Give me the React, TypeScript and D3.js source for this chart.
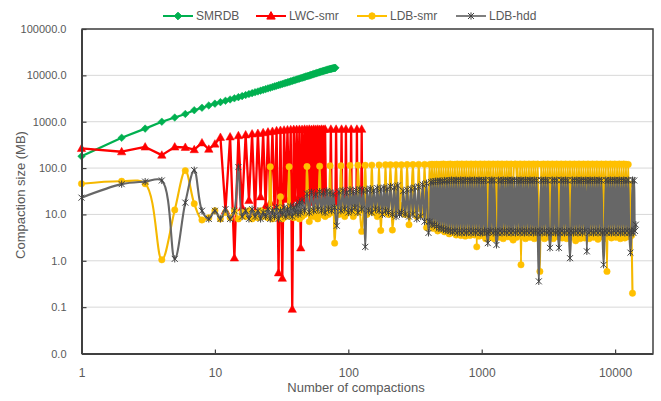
import React, { useEffect, useRef } from "react";
import * as d3 from "d3";

// SMRDB: compaction 1..80
const smrdbSize = [180, 450, 710, 1000, 1230, 1470, 1770, 2000, 2240, 2450,
  2640, 2830, 3020, 3200, 3390, 3570, 3760, 3950, 4130, 4310,
  4500, 4680, 4870, 5050, 5230, 5420, 5600, 5780, 5970, 6150,
  6330, 6510, 6700, 6880, 7060, 7240, 7420, 7610, 7790, 7970,
  8150, 8330, 8510, 8690, 8870, 9050, 9230, 9410, 9590, 9770,
  9950, 10130, 10310, 10490, 10670, 10850, 11030, 11210, 11380, 11560,
  11740, 11920, 12090, 12260, 12430, 12600, 12770, 12930, 13090, 13250,
  13400, 13550, 13690, 13830, 13960, 14080, 14200, 14310, 14420, 14520];

// LWC-smr: compaction 1..131
const lwcSmrSize = [265, 225, 285, 190, 285, 280, 250, 350, 255, 330,
  460, 12, 470, 1.15, 500, 14, 520, 20, 545, 11,
  560, 24, 580, 15, 600, 18, 620, 12, 640, 0.55,
  650, 0.42, 660, 21, 670, 14, 675, 0.09, 680, 22,
  680, 17, 685, 1.9, 680, 19, 690, 23, 685, 20,
  690, 18, 680, 22, 690, 19, 685, 21, 690, 24,
  680, 20, 690, 22, 685, 19, 690, 21, 22, 20,
  21, 19, 23, 690, 22, 18, 21, 24, 20, 19,
  690, 22, 20, 21, 23, 19, 20, 22, 690, 18,
  21, 20, 22, 19, 21, 690, 23, 20, 19, 22,
  20, 21, 19, 23, 690, 20, 22, 19, 21, 23,
  20, 18, 22, 21, 20, 690, 19, 22, 21, 20,
  23, 19, 21, 20, 22, 690, 21, 20, 19, 22, 21];

// sampled compaction numbers for the two LDB series
const ldbCompaction = [
  1, 2, 3, 4, 5, 6, 7, 8, 9, 10, 11, 12, 13, 14, 15, 16, 17, 18, 19, 20,
  21, 22, 23, 24, 25, 26, 27, 28, 29, 30, 31, 32, 33, 34, 35, 36, 37, 38, 39, 40,
  41, 42, 43, 44, 45,
  47, 49, 51, 53, 55, 57, 59, 61, 63, 65, 67, 69, 71, 73, 75, 77, 79,
  82, 85, 88, 91, 94, 97, 100, 103, 106, 109, 112, 115, 118,
  122, 126, 130, 134, 138, 142, 146, 150,
  155, 160, 165, 170, 175, 180, 185, 190, 195, 200,
  207, 214, 221, 228, 235, 242,
  250, 258, 267, 276, 285, 295, 305, 315, 326, 337, 349, 361, 373, 386, 399,
  408, 416, 424, 433, 441, 450, 459, 468, 478, 487,
  497, 507, 517, 527, 538, 549, 560, 571, 582, 594,
  606, 618, 630, 643, 656, 669, 682, 696, 710, 724,
  739, 753, 768, 784, 800, 816, 832, 848, 865, 883,
  900, 918, 937, 955, 975, 994,
  1010, 1030, 1050, 1070, 1090, 1110, 1130, 1150, 1170, 1190,
  1220, 1240, 1270, 1290, 1320, 1340, 1370, 1400, 1420, 1450,
  1480, 1510, 1540, 1570, 1600, 1630, 1660, 1690, 1720, 1760,
  1790, 1830, 1860, 1900, 1940, 1970, 2010, 2050, 2090, 2130,
  2170, 2210, 2260, 2300, 2350, 2390, 2440, 2480, 2530, 2580,
  2630, 2680, 2730, 2790, 2840, 2900, 2950, 3010, 3070, 3130,
  3190, 3250, 3310, 3380, 3440, 3510, 3580, 3650, 3720, 3790,
  3860, 3940, 4010, 4090, 4170, 4250, 4340, 4420, 4510, 4590,
  4680, 4780, 4870, 4960, 5060, 5160, 5260, 5360, 5470, 5570,
  5680, 5790, 5910, 6020, 6140, 6260, 6380, 6500, 6630, 6760,
  6890, 7020, 7160, 7300, 7440, 7590, 7740, 7890, 8040, 8200,
  8360, 8520, 8690, 8860, 9030, 9210, 9380, 9570, 9750, 9940,
  10140, 10340, 10540, 10740, 10950, 11170, 11380, 11610, 11830, 12060,
  12300, 12540, 12780, 13030, 13280, 13500,
  13700, 13900, 14100, 14300];

const ldbSmrSize = [
  46, 52, 46, 1.05, 12.5, 88, 17, 7.6, 8.5, 12, 8, 11, 8.5, 12, 8, 11, 9, 12, 8, 10.5,
  8.5, 12, 9, 11, 8.5, 107, 8, 11, 9, 12, 24, 8, 11, 9, 12, 107, 9, 12, 8.5, 11,
  9, 13, 8, 12, 9,
  10, 108, 7, 12, 9, 14, 8, 110, 10, 13, 9, 15, 10, 112, 11, 14, 2.4,
  13, 10, 112, 12, 9, 15, 11, 114, 13, 9, 16, 11, 115,
  14, 4.3, 12, 115, 10, 16, 12, 116,
  11, 15, 9, 117, 4.5, 14, 11, 118, 13, 10,
  118, 4.6, 15, 118, 12, 16,
  118, 14, 10, 119, 6.0, 15, 119, 12, 9, 120, 13, 10, 120, 5.2, 14,
  120, 6, 121, 5, 120, 5.5, 121, 4.4, 120, 5,
  121, 4.6, 122, 4.2, 120, 5, 121, 3.8, 122, 4.5,
  120, 4, 121, 3.6, 122, 4.4, 121, 3.5, 122, 4,
  121, 3.4, 122, 3.8, 121, 3.5, 122, 4, 121, 3.6,
  122, 2.0, 121, 3.4, 122, 3.8,
  121, 3.5, 122, 3.0, 121, 4.0, 122, 3.2, 121, 3.6,
  122, 3.0, 121, 3.8, 122, 3.2, 121, 3.5, 122, 3.0,
  121, 3.8, 122, 3.3, 121, 3.6, 122, 3.1, 2.8, 121,
  122, 3.2, 121, 3.6, 122, 0.82, 121, 3.4, 122, 3.0,
  121, 3.7, 122, 3.2, 121, 3.5, 122, 3.0, 121, 3.6,
  122, 3.3, 0.59, 121, 3.4, 122, 3.0, 121, 3.6, 122,
  3.2, 121, 3.5, 122, 3.0, 121, 3.7, 122, 3.3, 121,
  3.6, 122, 3.1, 121, 3.4, 122, 3.0, 121, 3.8, 122,
  3.2, 121, 3.5, 122, 2.7, 121, 3.6, 122, 3.0, 121,
  3.4, 122, 3.1, 121, 3.6, 122, 3.0, 121, 3.5, 122,
  3.2, 121, 3.7, 122, 2.9, 121, 3.3, 122, 3.6, 121,
  3.0, 122, 0.59, 121, 3.4, 122, 3.1, 121, 3.6, 122,
  3.2, 121, 3.5, 122, 3.0, 121, 3.6, 122, 3.1, 121,
  3.4, 120, 3.3, 45, 3.5, 0.2];

const ldbHddSize = [
  23, 45, 51, 54, 1.1, 18, 90, 12, 8, 12, 8, 13, 8, 12, 105, 9, 12, 8, 13, 9,
  12, 8, 11, 9, 13, 8, 12, 9, 14, 8, 12, 10, 14, 9, 13, 10, 15, 9, 14, 11,
  16, 10, 18, 11, 20,
  12, 28, 11, 30, 12, 27, 13, 31, 12, 29, 11, 32, 13, 30, 12, 28, 14,
  5.7, 31, 12, 33, 13, 30, 11, 34, 12, 31, 14, 33, 11,
  35, 13, 32, 2.0, 34, 12, 36, 11,
  33, 13, 37, 12, 35, 10, 38, 12, 36, 11,
  40, 10, 38, 9, 42, 10,
  11, 32, 10, 34, 9, 36, 10, 38, 8, 40, 9, 44, 7, 47, 4.0,
  7, 50, 6, 51, 6, 52, 5.5, 52, 5, 53,
  5, 52, 4.8, 54, 4.6, 53, 4.5, 54, 4.4, 55,
  4.2, 54, 4.4, 55, 4.0, 54, 4.4, 55, 4.0, 54,
  4.4, 55, 4.0, 54, 4.4, 55, 4.0, 54, 4.4, 55,
  4.0, 54, 4.4, 55, 4.0, 54,
  4.0, 54, 4.4, 55, 4.0, 2.4, 4.2, 54, 4.4, 55,
  4.0, 54, 4.4, 2.2, 4.0, 55, 4.4, 54, 4.0, 55,
  4.4, 54, 4.0, 55, 4.4, 54, 4.0, 55, 4.4, 54,
  4.0, 55, 4.4, 54, 4.0, 55, 4.4, 54, 4.0, 55,
  4.4, 54, 4.0, 55, 4.4, 54, 4.0, 55, 4.4, 54,
  4.0, 0.36, 4.4, 55, 4.0, 54, 4.4, 55, 4.0, 54,
  4.4, 1.9, 4.0, 55, 4.4, 54, 4.0, 55, 4.4, 1.9,
  4.0, 55, 4.4, 54, 4.0, 55, 4.4, 54, 4.0, 1.14,
  4.4, 55, 4.0, 54, 4.4, 55, 4.0, 54, 4.4, 55,
  4.0, 54, 4.4, 55, 1.6, 54, 4.0, 55, 4.4, 54,
  4.0, 55, 4.4, 54, 4.0, 55, 4.4, 54, 4.0, 0.82,
  4.4, 55, 4.0, 54, 4.4, 55, 4.0, 54, 4.4, 55,
  4.0, 54, 4.4, 55, 4.0, 54, 4.4, 55, 4.0, 54,
  4.4, 55, 4.0, 1.5, 4.4, 55,
  4.0, 54, 4.4, 6];

const yTickValues = [0.01, 0.1, 1, 10, 100, 1000, 10000, 100000];
const xTickValues = [1, 10, 100, 1000, 10000];

const seriesNames = ["SMRDB", "LWC-smr", "LDB-smr", "LDB-hdd"];
const seriesColors = ["#00b050", "#ff0000", "#ffc000", "#7f7f7f"];

const markerPaths: Record<string, string> = {
  diamond: "M0,-3.8L3.8,0L0,3.8L-3.8,0Z",
  triangle: "M0,-4.4L4.2,3.1L-4.2,3.1Z",
  circle: "M3.2,0A3.2,3.2 0 1,1 -3.2,0A3.2,3.2 0 1,1 3.2,0Z",
  star: "M-3,-3L3,3M-3,3L3,-3M0,-3.6L0,3.6",
};

export default function App() {
  const ref = useRef<SVGSVGElement>(null);

  useEffect(() => {
    const svg = d3.select(ref.current);
    svg.selectAll("*").remove();

    const left = 81.5, right = 653, top = 29, bottom = 353.5;
    const textColor = "#595959";
    const font = "'Liberation Sans', Arial, sans-serif";

    const x = d3.scaleLog().domain([1, 19230]).range([left, right]);
    const y = d3.scaleLog().domain([0.01, 100000]).range([bottom, top]);

    // gridlines
    svg.append("g")
      .selectAll("line")
      .data(yTickValues.slice(1))
      .join("line")
      .attr("x1", left).attr("x2", right)
      .attr("y1", d => y(d)).attr("y2", d => y(d))
      .attr("stroke", "#d9d9d9").attr("stroke-width", 1);

    const series = [
      { pts: smrdbSize.map((v, i) => [i + 1, v]), marker: "diamond", curve: d3.curveLinear, width: 2.2, stroke: seriesColors[0] },
      { pts: lwcSmrSize.map((v, i) => [i + 1, v]), marker: "triangle", curve: d3.curveLinear, width: 2.3, stroke: seriesColors[1] },
      { pts: ldbSmrSize.map((v, i) => [ldbCompaction[i], v]), marker: "circle", curve: d3.curveCatmullRom.alpha(0.5), width: 2.1, stroke: "#f5b800" },
      { pts: ldbHddSize.map((v, i) => [ldbCompaction[i], v]), marker: "star", curve: d3.curveCatmullRom.alpha(0.5), width: 2.1, stroke: "#676767" },
    ];

    series.forEach((s, si) => {
      const color = seriesColors[si];
      const line = d3.line<number[]>()
        .x(d => x(d[0]))
        .y(d => y(d[1]))
        .curve(s.curve);
      const g = svg.append("g");
      g.append("path")
        .attr("d", line(s.pts))
        .attr("fill", "none")
        .attr("stroke", s.stroke)
        .attr("stroke-width", s.width)
        .attr("stroke-linejoin", "round");
      const isStar = s.marker === "star";
      g.selectAll("path.m")
        .data(s.pts)
        .join("path")
        .attr("class", "m")
        .attr("d", markerPaths[s.marker])
        .attr("transform", d => `translate(${x(d[0])},${y(d[1])})`)
        .attr("fill", isStar ? "none" : color)
        .attr("stroke", isStar ? "#404040" : color)
        .attr("stroke-width", isStar ? 1 : 0.5);
    });

    // axes
    const yAxis = d3.axisLeft(y)
      .tickValues(yTickValues)
      .tickFormat(d3.format(".1f"))
      .tickSizeInner(-5)
      .tickSizeOuter(0)
      .tickPadding(15);
    const gy = svg.append("g").attr("transform", `translate(${left},0)`).call(yAxis);
    gy.select(".domain").attr("stroke", "#404040").attr("stroke-width", 2);
    gy.selectAll(".tick line").attr("stroke", "#404040").attr("stroke-width", 1.2);
    gy.selectAll("text").attr("fill", textColor).attr("font-size", 11).attr("font-family", font);

    const xAxis = d3.axisBottom(x)
      .tickValues(xTickValues)
      .tickFormat(d3.format("d"))
      .tickSizeInner(-4)
      .tickSizeOuter(0)
      .tickPadding(15);
    const gx = svg.append("g").attr("transform", `translate(0,${bottom})`).call(xAxis);
    gx.select(".domain").attr("stroke", "#404040").attr("stroke-width", 2);
    gx.selectAll(".tick line").attr("stroke", "#404040").attr("stroke-width", 1.2);
    gx.selectAll("text").attr("fill", textColor).attr("font-size", 12).attr("font-family", font);

    // frame top and right
    svg.append("path")
      .attr("d", `M${left},${top}H${right}V${bottom}`)
      .attr("fill", "none")
      .attr("stroke", "#404040")
      .attr("stroke-width", 1.5);

    // axis titles
    svg.append("text")
      .attr("x", 356).attr("y", 392)
      .attr("text-anchor", "middle")
      .attr("font-size", 13).attr("font-family", font)
      .attr("fill", textColor)
      .text("Number of compactions");
    svg.append("text")
      .attr("transform", "translate(25,195) rotate(-90)")
      .attr("text-anchor", "middle")
      .attr("font-size", 13).attr("font-family", font)
      .attr("fill", textColor)
      .text("Compaction size (MB)");

    // legend
    const legendX = [163, 256, 357, 456];
    const markers = ["diamond", "triangle", "circle", "star"];
    const lg = svg.append("g");
    seriesNames.forEach((name, i) => {
      const lx = legendX[i];
      const ly = 16;
      const color = seriesColors[i];
      lg.append("line")
        .attr("x1", lx).attr("x2", lx + 30)
        .attr("y1", ly).attr("y2", ly)
        .attr("stroke", color).attr("stroke-width", 2);
      lg.append("path")
        .attr("d", markerPaths[markers[i]])
        .attr("transform", `translate(${lx + 15},${ly})`)
        .attr("fill", markers[i] === "star" ? "none" : color)
        .attr("stroke", markers[i] === "star" ? "#404040" : color)
        .attr("stroke-width", 1);
      lg.append("text")
        .attr("x", lx + 33).attr("y", ly)
        .attr("dy", "0.35em")
        .attr("font-size", 12).attr("font-family", font)
        .attr("fill", textColor)
        .text(name);
    });
  }, []);

  return (
    <svg
      ref={ref}
      width={661}
      height={401}
      style={{ position: "absolute", left: 0, top: 0, background: "#fff" }}
    />
  );
}
